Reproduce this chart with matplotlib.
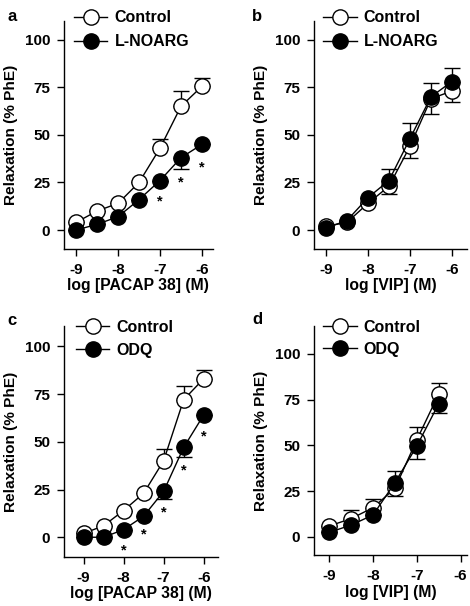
import numpy as np
import matplotlib
matplotlib.use("Agg")
import matplotlib.pyplot as plt

plt.rcParams['font.family'] = ['Liberation Sans', 'DejaVu Sans']
plt.rcParams['font.weight'] = 'bold'
plt.rcParams['font.size'] = 11

# concentrations (log M)
logc = [-9, -8.5, -8, -7.5, -7, -6.5, -6]
logc_d = [-9, -8.5, -8, -7.5, -7, -6.5]

# panel a: PACAP 38, control vs L-NOARG
a_ctrl = [4, 10, 14, 25, 43, 65, 75.5]
a_ctrl_lo = [0, 0, 0, 0, 0, 0, 0]
a_ctrl_hi = [0, 0, 0, 0, 5, 8, 4.5]
a_trt = [0, 3, 7, 16, 26, 38, 45]
a_trt_lo = [0, 0, 0, 0, 0, 6, 0]
a_trt_hi = [0, 0, 0, 0, 0, 0, 0]
a_stars_x = [-7, -6.5, -6]
a_stars_y = [15, 25, 33]

# panel b: VIP, control vs L-NOARG
b_ctrl = [2, 4, 14, 23, 44, 69, 73]
b_ctrl_lo = [0, 0, 0, 4, 6, 8, 6]
b_ctrl_hi = [0, 0, 0, 0, 0, 0, 0]
b_trt = [1, 5, 17, 26, 48, 70, 78]
b_trt_lo = [0, 0, 0, 0, 0, 0, 0]
b_trt_hi = [0, 0, 0, 6, 8, 7, 7]

# panel c: PACAP 38, control vs ODQ
c_ctrl = [2, 6, 14, 23, 40, 72, 83]
c_ctrl_lo = [0, 0, 0, 0, 0, 0, 0]
c_ctrl_hi = [0, 0, 0, 0, 6, 7, 4.5]
c_trt = [0, 0, 4, 11, 24, 47, 64]
c_trt_lo = [0, 0, 0, 0, 4, 5, 0]
c_trt_hi = [0, 0, 0, 0, 0, 0, 0]
c_stars_x = [-8, -7.5, -7, -6.5, -6]
c_stars_y = [-7, 1.5, 13, 35, 53]

# panel d: VIP, control vs ODQ
d_ctrl = [6, 10, 16, 26.5, 53, 78]
d_ctrl_lo = [0, 0, 0, 4, 0, 0]
d_ctrl_hi = [0, 4.7, 4.5, 0, 7, 6]
d_trt = [2.5, 6.5, 12, 29.6, 49.6, 72.7]
d_trt_lo = [0, 0, 0, 0, 7, 5]
d_trt_hi = [0, 0, 0, 6.5, 0, 0]

fig = plt.figure(figsize=(4.7, 6.06), dpi=100)

panels = [
    dict(letter='a', rect=[0.136, 0.589, 0.317, 0.377], x=logc,
         ctrl=(a_ctrl, a_ctrl_lo, a_ctrl_hi), trt=(a_trt, a_trt_lo, a_trt_hi),
         name='L-NOARG', xlabel='log [PACAP 38] (M)', xlim=(-9.29, -5.74), ylim=(-10, 110),
         stars=(a_stars_x, a_stars_y), leg=(0.067, 1.045), ls=0.56, let=(-0.376, 1.016)),
    dict(letter='b', rect=[0.668, 0.589, 0.325, 0.377], x=logc,
         ctrl=(b_ctrl, b_ctrl_lo, b_ctrl_hi), trt=(b_trt, b_trt_lo, b_trt_hi),
         name='L-NOARG', xlabel='log [VIP] (M)', xlim=(-9.285, -5.65), ylim=(-10, 110),
         stars=None, leg=(0.059, 1.045), ls=0.56, let=(-0.406, 1.02)),
    dict(letter='c', rect=[0.136, 0.081, 0.328, 0.381], x=logc,
         ctrl=(c_ctrl, c_ctrl_lo, c_ctrl_hi), trt=(c_trt, c_trt_lo, c_trt_hi),
         name='ODQ', xlabel='log [PACAP 38] (M)', xlim=(-9.49, -5.64), ylim=(-10.3, 110.6),
         stars=(c_stars_x, c_stars_y), leg=(0.078, 1.028), ls=0.5, let=(-0.364, 1.022)),
    dict(letter='d', rect=[0.668, 0.0837, 0.325, 0.378], x=logc_d,
         ctrl=(d_ctrl, d_ctrl_lo, d_ctrl_hi), trt=(d_trt, d_trt_lo, d_trt_hi),
         name='ODQ', xlabel='log [VIP] (M)', xlim=(-9.35, -5.86), ylim=(-10, 115),
         stars=None, leg=(0.059, 1.028), ls=0.44, let=(-0.406, 1.028)),
]

for p in panels:
    ax = fig.add_axes(p['rect'])
    x = p['x']
    y, lo, hi = p['ctrl']
    ax.errorbar(x, y, yerr=[lo, hi], fmt='none', ecolor='black', elinewidth=1,
                capsize=6, capthick=1, zorder=1)
    ax.plot(x, y, '-o', color='black', lw=1, ms=11, mfc='white', mec='black',
            mew=1, zorder=2, label='Control')
    y, lo, hi = p['trt']
    ax.errorbar(x, y, yerr=[lo, hi], fmt='none', ecolor='black', elinewidth=1,
                capsize=6, capthick=1, zorder=3)
    ax.plot(x, y, '-o', color='black', lw=1, ms=11, mfc='black', mec='black',
            mew=1, zorder=4, label=p['name'])
    if p['stars']:
        for sx, sy in zip(*p['stars']):
            ax.text(sx, sy, '*', ha='center', va='center', fontsize=10.5, fontweight='bold')

    ax.set_xlim(*p['xlim'])
    ax.set_ylim(*p['ylim'])
    ax.set_xticks([-9, -8, -7, -6])
    ax.set_xticklabels(['-9', '-8', '-7', '-6'])
    ax.set_yticks([0, 25, 50, 75, 100])
    for s in ['top', 'right']:
        ax.spines[s].set_visible(False)
    for s in ['left', 'bottom']:
        ax.spines[s].set_linewidth(1)
    ax.tick_params(direction='out', length=5, width=1, pad=5, labelsize=11)
    ax.set_xlabel(p['xlabel'], fontsize=11.3, fontweight='bold', labelpad=1)
    ax.set_ylabel('Relaxation (% PhE)', fontsize=11.1, fontweight='bold', labelpad=5)
    ax.legend(loc='upper left', bbox_to_anchor=p['leg'], frameon=False,
              handlelength=2.1, handletextpad=0.44, labelspacing=p['ls'],
              borderpad=0, borderaxespad=0, fontsize=11.5)
    ax.text(p['let'][0], p['let'][1], p['letter'], transform=ax.transAxes, fontsize=12,
            fontweight='bold', ha='left', va='center')

fig.savefig('out.png', dpi=100)
